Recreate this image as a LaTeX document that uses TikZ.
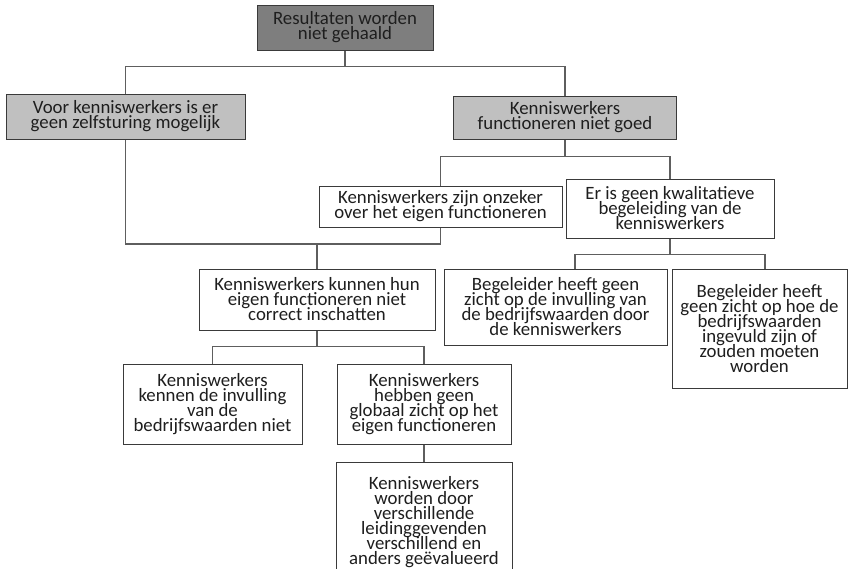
\documentclass[tikz,border=0pt]{standalone}
\usepackage{fontspec}
\setmainfont{Carlito}
\usetikzlibrary{backgrounds}
\definecolor{darkfill}{HTML}{7E7E7E}
\definecolor{lightfill}{HTML}{C0C0C0}
\definecolor{bordercol}{HTML}{3A3A3A}
\definecolor{linecol}{HTML}{5E5E5E}
\definecolor{textcol}{HTML}{1E1E1E}
\newcommand\myboxfont{\fontsize{18.8}{15}\selectfont\lineskiplimit=-100pt\relax\lineskip=0pt\relax}
\begin{document}
\begin{tikzpicture}[x=1pt,y=-1pt,
  box/.style={draw=bordercol, line width=0.9pt, fill=white, align=center, inner sep=0pt,
    text=textcol, font=\myboxfont},
  conn/.style={draw=linecol, line width=1.1pt}]
\useasboundingbox (0,0) rectangle (848,569);
\clip (0,0) rectangle (848,569);

\node[box, fill=darkfill, minimum width=176pt, minimum height=45pt] (top) at (345,27.5) {Resultaten worden\\niet gehaald};
\node[box, fill=lightfill, minimum width=239pt, minimum height=45pt] (voor) at (125.5,116.5) {Voor kenniswerkers is er\\geen zelfsturing mogelijk};
\node[box, fill=lightfill, minimum width=223pt, minimum height=43pt] (func) at (565,117.5) {Kenniswerkers\\functioneren niet goed};
\node[box, minimum width=243pt, minimum height=41pt] (onzeker) at (440.5,206.5) {Kenniswerkers zijn onzeker\\over het eigen functioneren};
\node[box, minimum width=208pt, minimum height=59pt] (ergeen) at (670,208.5) {Er is geen kwalitatieve\\begeleiding van de\\kenniswerkers};
\node[box, minimum width=236pt, minimum height=61pt] (kunnen) at (317,299.5) {Kenniswerkers kunnen hun\\eigen functioneren niet\\correct inschatten};
\node[box, minimum width=223pt, minimum height=76pt] (beg1) at (555.5,307) {Begeleider heeft geen\\zicht op de invulling van\\de bedrijfswaarden door\\de kenniswerkers};
\node[box, minimum width=175pt, minimum height=119pt] (beg2) at (759.5,328.5) {Begeleider heeft\\geen zicht op hoe de\\bedrijfswaarden\\ingevuld zijn of\\zouden moeten\\worden};
\node[box, minimum width=179pt, minimum height=80pt] (kennen) at (212.5,404) {Kenniswerkers\\kennen de invulling\\van de\\bedrijfswaarden niet};
\node[box, minimum width=174pt, minimum height=80pt] (hebben) at (424,404) {Kenniswerkers\\hebben geen\\globaal zicht op het\\eigen functioneren};
\node[box, minimum width=176pt, minimum height=120pt] (bottom) at (424,522) {Kenniswerkers\\worden door\\verschillende\\leidinggevenden\\verschillend en\\anders geëvalueerd};

\begin{pgfonlayer}{background}
\draw[conn] (top.south) -- ++(0,16) coordinate (b1);
\draw[conn] (b1) -| (voor.north);
\draw[conn] (b1) -| (func.north);
\coordinate (m) at (317,244);
\draw[conn] (voor.south) |- (m) -| (onzeker.south);
\draw[conn] (m) -- (kunnen.north);
\draw[conn] (func.south) -- ++(0,17) coordinate (b2);
\draw[conn] (b2) -| (onzeker.north);
\draw[conn] (b2) -| (ergeen.north);
\draw[conn] (ergeen.south) -- ++(0,16) coordinate (b3);
\draw[conn] (b3) -| ([xshift=19.5pt]beg1.north);
\draw[conn] (b3) -| ([xshift=5.5pt]beg2.north);
\draw[conn] (kunnen.south) -- ++(0,16) coordinate (b4);
\draw[conn] (b4) -| (kennen.north);
\draw[conn] (b4) -| (hebben.north);
\draw[conn] (hebben.south) -- (bottom.north);
\end{pgfonlayer}
\end{tikzpicture}
\end{document}
